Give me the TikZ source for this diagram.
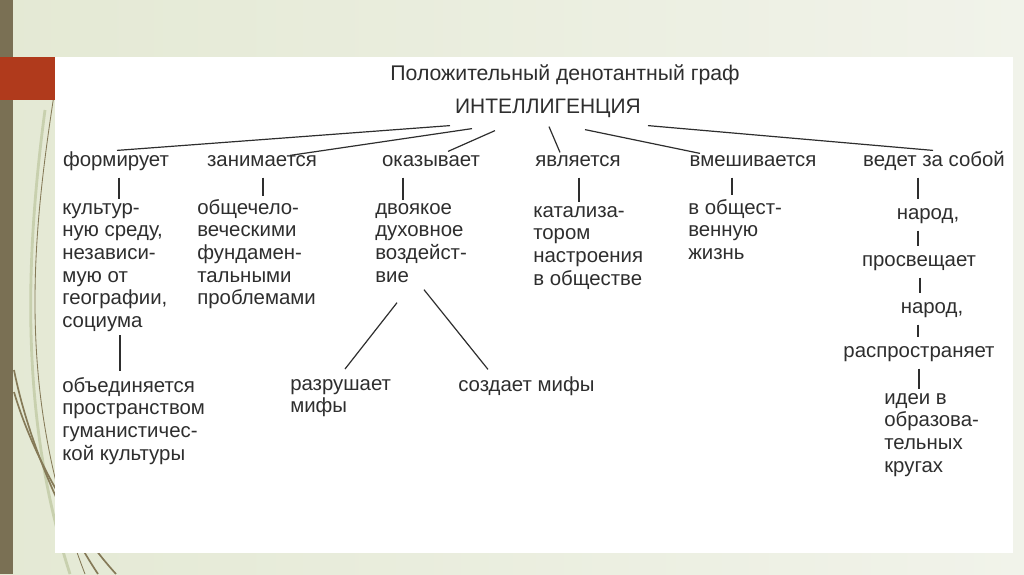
\documentclass[tikz,border=0pt]{standalone}
\usepackage{fontspec}
\setmainfont{Liberation Sans}
\usetikzlibrary{calc}
\definecolor{ink}{HTML}{2E2E2E}
\definecolor{slide}{HTML}{E4E9D4}
\definecolor{slidelight}{HTML}{F1F3EA}
\definecolor{bar}{HTML}{7A7054}
\definecolor{brick}{HTML}{B03A1C}
\definecolor{vine}{HTML}{857A58}
\definecolor{vinelight}{HTML}{C8D0AE}
\newcommand{\lblfont}{\fontsize{14.5}{16.1}\selectfont}
\tikzset{
  txt/.style={font=\lblfont,text=ink,inner sep=0pt,align=left},
  lbl/.style={txt,text height=11.3pt,text depth=4.8pt},
  blk/.style={txt,anchor=base west},
  link/.style={draw=ink,line width=0.85pt},
  vine/.style={draw=vine,line width=1.2pt},
  vinesoft/.style={draw=vinelight,line width=2pt}
}

\begin{document}
\begin{tikzpicture}[x=0.025cm,y=-0.025cm]
  \useasboundingbox (0,0) rectangle (1024,574);
  \shade[left color=slide,right color=slidelight] (0,0) rectangle (1024,574);
  \draw[vinesoft] (45,110) .. controls (25,260) and (20,420) .. (70,574);
  \draw[vine,line width=0.6pt] (54,95) .. controls (30,250) and (18,400) .. (85,574);
  \draw[vine] (14,370) .. controls (28,440) and (62,520) .. (98,574);
  \draw[vine] (14,392) .. controls (34,460) and (76,530) .. (116,574);
  \fill[bar] (0,0) rectangle (13,574);
  \fill[brick] (0,57) rectangle (55,100);
  \fill[white] (55,57) rectangle (1013,553);

  \node[lbl,font=\fontsize{15.1}{17}\selectfont] (title) at (565,76) {Положительный денотантный граф};
  \node[lbl,font=\fontsize{14.9}{17}\selectfont] (root) at (548,109) {ИНТЕЛЛИГЕНЦИЯ};

  \node[lbl] (form) at (116,162) {формирует};
  \node[lbl] (zan) at (262,162) {занимается};
  \node[lbl] (okaz) at (431,162) {оказывает};
  \node[lbl] (yavl) at (578,162) {является};
  \node[lbl] (vmesh) at (753,162) {вмешивается};
  \node[lbl] (vedet) at (934,162) {ведет за собой};

  \node[blk] (kult) at (62,327.5) {культур-\\ную среду,\\независи-\\мую от\\географии,\\социума};
  \node[blk] (obsch) at (197,304.9) {общечело-\\веческими\\фундамен-\\тальными\\проблемами};
  \node[blk] (dvoyak) at (375,282.2) {двоякое\\духовное\\воздейст-\\вие};
  \node[blk] (katal) at (533,285.2) {катализа-\\тором\\настроения\\в обществе};
  \node[blk] (vobsh) at (688,259.6) {в общест-\\венную\\жизнь};
  \node[blk] (obed) at (62,460.2) {объединяется\\пространством\\гуманистичес-\\кой культуры};
  \node[blk] (razr) at (290,412.9) {разрушает\\мифы};
  \node[lbl,anchor=west] (sozd) at (458,387) {создает мифы};

  \node[lbl] (narod1) at (928,215) {народ,};
  \node[lbl] (prosv) at (919,262) {просвещает};
  \node[lbl] (narod2) at (932,309) {народ,};
  \node[lbl] (rasp) at (919,353) {распространяет};
  \node[blk] (idei) at (884,472.2) {идеи в\\образова-\\тельных\\кругах};

  \draw[link] ($(root.south)+(-98,5)$) -- ($(form.north)+(1,0)$);
  \draw[link] ($(root.south)+(-76,8)$) -- ($(zan.north)+(28,5)$);
  \draw[link] ($(root.south)+(-53,10)$) -- ($(okaz.north)+(17,1)$);
  \draw[link] ($(root.south)+(1,6)$) -- ($(yavl.north)+(-18,2)$);
  \draw[link] ($(root.south)+(37,9)$) -- ($(vmesh.north)+(-53,3)$);
  \draw[link] ($(root.south)+(100,5)$) -- ($(vedet.north)+(-1,0)$);

  \draw[link] ($(form.south)+(3,4)$) coordinate (t1) -- ($(t1 |- kult.north)+(0,-4)$);
  \draw[link] ($(zan.south)+(1,4)$) coordinate (t2) -- ($(t2 |- obsch.north)+(0,-3)$);
  \draw[link] ($(okaz.south)+(-28,4)$) coordinate (t3) -- ($(t3 |- dvoyak.north)+(0,-3)$);
  \draw[link] ($(yavl.south)+(1,4)$) coordinate (t4) -- ($(t4 |- katal.north)+(0,-4)$);
  \draw[link] ($(vmesh.south)+(-21,4)$) coordinate (t5) -- ($(t5 |- vobsh.north)+(0,-4)$);
  \draw[link] ($(vedet.south)+(-16,4)$) coordinate (t6) -- ($(t6 |- narod1.north)+(0,-4)$);

  \draw[link] ($(kult.south west)+(58,3)$) coordinate (t7) -- ($(t7 |- obed.north)+(0,-6)$);
  \draw[link] ($(dvoyak.south west)+(22,20)$) -- ($(razr.north west)+(55,-10)$);
  \draw[link] ($(dvoyak.south west)+(49,7)$) -- ($(sozd.north west)+(30,-6)$);

  \draw[link] ($(narod1.south)+(-10,4)$) coordinate (t8) -- ($(t8 |- prosv.north)+(0,-4)$);
  \draw[link] ($(prosv.south)+(1,4)$) coordinate (t9) -- ($(t9 |- narod2.north)+(0,-4)$);
  \draw[link] ($(narod2.south)+(-14,4)$) coordinate (t10) -- ($(t10 |- rasp.north)+(0,-4)$);
  \draw[link] ($(rasp.south)+(0,4)$) coordinate (t11) -- ($(t11 |- idei.north)+(0,-4)$);
\end{tikzpicture}
\end{document}
